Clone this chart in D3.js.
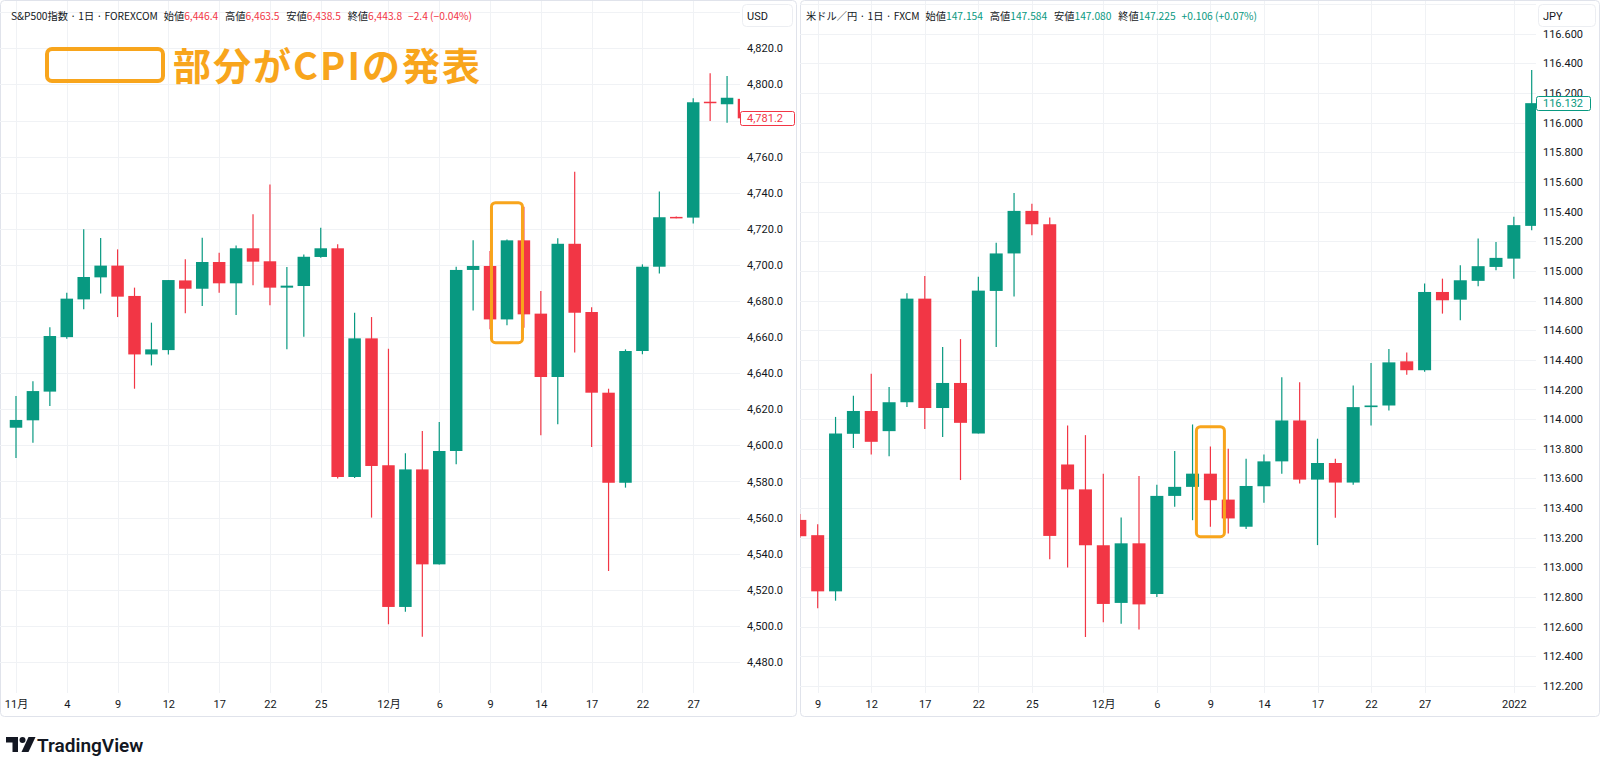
<!DOCTYPE html>
<html><head><meta charset="utf-8">
<script src="https://cdn.jsdelivr.net/npm/d3@7"></script>
<style>
body{margin:0;background:#fff;}
svg{display:block;}
text{font-family:Roboto,"Noto Sans CJK JP",sans-serif;}
</style></head>
<body><div id="chart"></div>
<script>
// ---------------- DATA ----------------
// S&P500 (FOREXCOM), daily
const spxDates = ["11-01","11-02","11-03","11-04","11-05","11-08","11-09","11-10","11-11","11-12","11-15","11-16","11-17","11-18","11-19","11-22","11-23","11-24","11-25","11-26","11-29","11-30",
  "12-01","12-02","12-03","12-06","12-07","12-08","12-09","12-10","12-13","12-14","12-15","12-16","12-17","12-20","12-21","12-22","12-23","12-24","12-27","12-28","12-29","12-30"];
const spxOpen  = [4609.8,4613.9,4629.8,4660.0,4680.9,4693.1,4699.6,4682.8,4650.4,4652.8,4691.4,4686.8,4701.6,4689.8,4709.2,4702.0,4687.4,4688.3,4704.4,4709.2,4582.5,4659.3,
  4589.0,4510.5,4586.7,4534.1,4596.9,4697.2,4699.4,4669.8,4713.6,4673.0,4637.9,4711.7,4673.9,4629.2,4579.3,4652.3,4699.0,4726.6,4726.2,4790.4,4789.0,4792.0];
const spxHigh  = [4627.4,4635.5,4665.4,4684.6,4719.7,4714.9,4708.6,4687.4,4668.0,4691.6,4703.1,4715.1,4706.8,4710.8,4728.0,4744.6,4698.8,4705.8,4720.6,4711.4,4673.5,4671.1,
  4653.6,4595.6,4608.0,4612.9,4699.0,4713.6,4707.7,4714.1,4732.2,4685.5,4714.7,4751.6,4676.6,4631.4,4653.2,4700.3,4740.6,4726.8,4792.3,4806.2,4804.7,4792.5];
const spxLow   = [4593.0,4601.5,4621.8,4659.1,4675.4,4684.2,4671.1,4631.4,4644.3,4650.4,4673.2,4677.2,4684.6,4672.2,4688.7,4677.6,4653.2,4660.2,4704.0,4581.6,4582.0,4560.0,
  4500.9,4507.9,4494.0,4534.0,4589.5,4674.8,4664.3,4666.5,4665.2,4605.6,4611.7,4651.4,4599.1,4530.4,4576.6,4650.5,4695.3,4725.8,4723.0,4779.7,4778.8,4780.5];
const spxClose = [4614.1,4630.1,4660.6,4681.3,4693.3,4699.6,4682.4,4650.4,4653.2,4691.6,4686.8,4701.6,4689.8,4709.2,4701.8,4687.4,4688.5,4704.5,4709.2,4582.5,4659.3,4588.6,
  4510.5,4586.7,4534.1,4596.9,4697.2,4699.4,4669.8,4713.6,4672.6,4637.9,4711.7,4673.5,4629.2,4579.3,4652.3,4699.0,4726.4,4726.0,4790.1,4789.6,4792.6,4781.2];
const spxTickDates  = ["11-01","11-04","11-09","11-12","11-17","11-22","11-25","12-01","12-06","12-09","12-14","12-17","12-22","12-27"];
const spxTickLabels = ["11月","4","9","12","17","22","25","12月","6","9","14","17","22","27"];
const spxPriceMin = 4480, spxPriceMax = 4820, spxPriceStep = 20;
const spxTitle = "S&P500指数 · 1日 · FOREXCOM";
const spxFields = ["始値","高値","安値","終値"];
const spxFieldValues = ["6,446.4","6,463.5","6,438.5","6,443.8"];
const spxChange = "−2.4 (−0.04%)";
const spxCurrency = "USD";
const spxCpiDate = "12-10", spxCpiRange = [4656.9, 4734.5];

// USD/JPY (FXCM), daily
const usdDates = ["11-08","11-09","11-10","11-11","11-12","11-15","11-16","11-17","11-18","11-19","11-22","11-23","11-24","11-25","11-26","11-29","11-30",
  "12-01","12-02","12-03","12-06","12-07","12-08","12-09","12-10","12-13","12-14","12-15","12-16","12-17","12-20","12-21","12-22","12-23","12-24","12-27","12-28","12-29","12-30","12-31",
  "01-03","01-04"];
const usdOpen  = [113.32,113.217,112.838,113.901,114.055,113.919,114.114,114.813,114.075,114.244,113.903,114.865,115.118,115.405,115.315,113.694,113.526,
  113.149,112.76,113.162,112.82,113.482,113.543,113.632,113.457,113.274,113.547,113.715,113.991,113.592,113.704,113.572,114.081,114.092,114.39,114.33,114.858,114.806,114.933,115.027,
  115.083,115.304];
const usdHigh  = [113.36,113.291,114.015,114.158,114.306,114.217,114.849,114.966,114.486,114.540,114.961,115.190,115.526,115.454,115.360,113.957,113.892,
  113.632,113.336,113.617,113.558,113.785,113.964,113.816,113.800,113.733,113.762,114.282,114.249,113.868,113.733,114.227,114.379,114.473,114.45,114.915,114.948,115.038,115.219,115.196,
  115.365,116.356];
const usdLow   = [113.20,112.724,112.775,113.806,113.762,113.750,114.082,113.934,113.880,113.589,113.903,114.486,114.827,115.241,113.055,112.999,112.53,
  112.63,112.62,112.58,112.80,113.408,113.318,113.274,113.229,113.258,113.435,113.632,113.565,113.150,113.334,113.558,113.957,114.058,114.30,114.32,114.712,114.667,114.897,115.005,
  114.948,115.275];
const usdClose = [113.21,112.838,113.903,114.055,113.847,114.114,114.813,114.075,114.244,113.975,114.867,115.118,115.405,115.315,113.212,113.526,113.149,
  112.753,113.162,112.75,113.482,113.543,113.632,113.453,113.330,113.549,113.715,113.991,113.592,113.704,113.572,114.081,114.092,114.383,114.33,114.858,114.802,114.937,115.032,115.088,
  115.309,116.132];
const usdTickDates  = ["11-09","11-12","11-17","11-22","11-25","12-01","12-06","12-09","12-14","12-17","12-22","12-27","01-03"];
const usdTickLabels = ["9","12","17","22","25","12月","6","9","14","17","22","27","2022"];
const usdPriceMin = 112.2, usdPriceMax = 116.6, usdPriceStep = 0.2;
const usdTitle = "米ドル／円 · 1日 · FXCM";
const usdFields = ["始値","高値","安値","終値"];
const usdFieldValues = ["147.154","147.584","147.080","147.225"];
const usdChange = "+0.106 (+0.07%)";
const usdCurrency = "JPY";
const usdCpiDate = "12-09", usdCpiRange = [113.207, 113.949];

const legendText = "部分がCPIの発表";

// ---------------- STYLE ----------------
const UP = "#089981", DOWN = "#f23645", ORANGE = "#f8a51c";
const TEXT = "#131722", GRID = "#f0f2f5", BORDER = "#e0e3eb";

const svg = d3.select("#chart").append("svg").attr("width",1600).attr("height",770);
svg.append("rect").attr("width",1600).attr("height",770).attr("fill","#fff");

function drawPanel(cfg){
  const g = svg.append("g");
  const x = d3.scalePoint().domain(cfg.dates).range(cfg.xRange);
  const y = d3.scaleLinear().domain([cfg.pMin, cfg.pMax]).range(cfg.yRange);
  const n = Math.round((cfg.pMax - cfg.pMin)/cfg.pStep);
  const gridVals = d3.range(0, n+2).map(i => +(cfg.pMin + i*cfg.pStep).toFixed(6))
        .filter(v=>y(v) > 0);
  const labelVals = gridVals.filter(v=>v <= cfg.pMax + 1e-9);

  // border
  g.append("rect").attr("x",cfg.border[0]+0.5).attr("y",0.5)
    .attr("width",cfg.border[1]-cfg.border[0]-1).attr("height",cfg.bottom-1)
    .attr("rx",4).attr("fill","none").attr("stroke",BORDER);

  // grid
  const grid = g.append("g");
  grid.selectAll("line.h").data(gridVals).join("line").attr("class","h")
    .attr("x1",cfg.plot[0]).attr("x2",cfg.plot[1])
    .attr("y1",d=>Math.round(y(d))+0.5).attr("y2",d=>Math.round(y(d))+0.5)
    .attr("stroke",GRID);
  grid.selectAll("line.v").data(cfg.tickDates).join("line").attr("class","v")
    .attr("x1",d=>Math.round(x(d))+0.5).attr("x2",d=>Math.round(x(d))+0.5)
    .attr("y1",1).attr("y2",cfg.plotBottom)
    .attr("stroke",GRID);

  // candles (clipped to plot area)
  const clipId = "clip-"+cfg.id;
  g.append("clipPath").attr("id",clipId).append("rect")
    .attr("x",cfg.plot[0]).attr("y",0).attr("width",cfg.plot[1]-cfg.plot[0]).attr("height",cfg.plotBottom);
  const cg = g.append("g").attr("clip-path",`url(#${clipId})`);
  const idx = d3.range(cfg.dates.length);
  const col = i => cfg.C[i] >= cfg.O[i] ? UP : DOWN;
  cg.selectAll("line.wick").data(idx).join("line").attr("class","wick")
    .attr("x1",i=>x(cfg.dates[i])).attr("x2",i=>x(cfg.dates[i]))
    .attr("y1",i=>y(cfg.H[i])).attr("y2",i=>y(cfg.L[i]))
    .attr("stroke",col).attr("stroke-width",1.2);
  cg.selectAll("rect.body").data(idx).join("rect").attr("class","body")
    .attr("x",i=>x(cfg.dates[i]) - cfg.bw/2).attr("width",cfg.bw)
    .attr("y",i=>y(Math.max(cfg.O[i],cfg.C[i])))
    .attr("height",i=>Math.max(1.5, Math.abs(y(cfg.O[i])-y(cfg.C[i]))))
    .attr("fill",col);

  // CPI highlight
  const cx = x(cfg.cpiDate);
  g.append("rect").attr("x",cx - cfg.cpiW/2).attr("width",cfg.cpiW)
    .attr("y",y(cfg.cpiRange[1])).attr("height",y(cfg.cpiRange[0])-y(cfg.cpiRange[1]))
    .attr("rx",4).attr("fill","none").attr("stroke",ORANGE).attr("stroke-width",3);

  // time axis
  const xa = d3.axisBottom(x).tickValues(cfg.tickDates)
    .tickFormat((d,i)=>cfg.tickLabels[i]).tickSize(0).tickPadding(7);
  const xg = g.append("g").attr("transform",`translate(0,${cfg.plotBottom})`).call(xa);
  xg.select(".domain").remove();
  xg.selectAll("text").attr("fill",TEXT).style("font-size","11px")
    .style("font-family",'Roboto,"Noto Sans CJK JP",sans-serif');

  // price axis
  const lastY = y(cfg.C[cfg.C.length-1]);
  const ya = d3.axisRight(y).tickValues(labelVals.filter(v=>Math.abs(y(v)-lastY) > 9.5))
    .tickFormat(cfg.fmt).tickSize(0).tickPadding(7);
  const yg = g.append("g").attr("transform",`translate(${cfg.plot[1]},0)`).call(ya);
  yg.select(".domain").remove();
  yg.selectAll("text").attr("fill",TEXT).style("font-size","11px")
    .style("font-family",'Roboto,"Noto Sans CJK JP",sans-serif');

  // last price label
  const lastCol = col(cfg.C.length-1);
  g.append("rect").attr("x",cfg.plot[1]+0.5).attr("y",Math.round(lastY)-6.5)
    .attr("width",54).attr("height",14).attr("rx",2)
    .attr("fill","#fff").attr("stroke",lastCol);
  g.append("text").attr("x",cfg.plot[1]+7).attr("y",Math.round(lastY)+0.5)
    .attr("dominant-baseline","central").attr("fill",lastCol).style("font-size","11px")
    .text(cfg.fmt(cfg.C[cfg.C.length-1]));

  // currency box
  g.append("rect").attr("x",cfg.plot[1]+2.5).attr("y",4.5).attr("width",cfg.border[1]-cfg.plot[1]-7).attr("height",22)
    .attr("rx",4).attr("fill","#fff").attr("stroke","#eceef2");
  g.append("text").attr("x",cfg.plot[1]+7).attr("y",16).attr("dominant-baseline","central")
    .attr("fill",TEXT).style("font-size","11px").text(cfg.currency);

  // header
  const t = g.append("text").attr("x",cfg.headerX).attr("y",15).attr("dominant-baseline","central")
    .attr("fill",TEXT).style("font-size","10.5px").style("font-family",'"Noto Sans CJK JP",sans-serif')
    .attr("textLength",cfg.headerW).attr("lengthAdjust","spacingAndGlyphs");
  t.append("tspan").text(cfg.title);
  cfg.fields.forEach((f,i)=>{
    t.append("tspan").attr("dx",i===0?6:7).text(f);
    t.append("tspan").attr("fill",cfg.valColor).text(cfg.fieldValues[i]);
  });
  t.append("tspan").attr("dx",6).attr("fill",cfg.valColor).text(cfg.change);
}

drawPanel({
  id:"spx", dates:spxDates, O:spxOpen, H:spxHigh, L:spxLow, C:spxClose,
  xRange:[16,744], yRange:[662,48.3], pMin:spxPriceMin, pMax:spxPriceMax, pStep:spxPriceStep,
  plot:[0,740], border:[0,797], bottom:717, plotBottom:693, bw:12.5,
  tickDates:spxTickDates, tickLabels:spxTickLabels, fmt:d3.format(",.1f"),
  cpiDate:spxCpiDate, cpiRange:spxCpiRange, cpiW:31,
  currency:spxCurrency, headerX:11, headerW:461, title:spxTitle, fields:spxFields, fieldValues:spxFieldValues,
  change:spxChange, valColor:DOWN
});
drawPanel({
  id:"usd", dates:usdDates, O:usdOpen, H:usdHigh, L:usdLow, C:usdClose,
  xRange:[799.85,1531.7], yRange:[685.9,33.8], pMin:usdPriceMin, pMax:usdPriceMax, pStep:usdPriceStep,
  plot:[800,1536], border:[800,1600], bottom:717, plotBottom:693, bw:13,
  tickDates:usdTickDates, tickLabels:usdTickLabels, fmt:d3.format(".3f"),
  cpiDate:usdCpiDate, cpiRange:usdCpiRange, cpiW:28,
  currency:usdCurrency, headerX:806, headerW:451, title:usdTitle, fields:usdFields, fieldValues:usdFieldValues,
  change:usdChange, valColor:UP
});

// legend annotation
svg.append("rect").attr("x",47).attr("y",49).attr("width",116).attr("height",32).attr("rx",5)
  .attr("fill","none").attr("stroke",ORANGE).attr("stroke-width",4);
svg.append("text").attr("x",173).attr("y",80).attr("fill",ORANGE)
  .style("font-family",'"Noto Sans CJK JP",sans-serif').style("font-weight","700").style("font-size","38px")
  .attr("textLength",307).attr("lengthAdjust","spacing").text(legendText);

// TradingView logo
const logo = svg.append("g").attr("transform","translate(6,737)");
logo.append("path").attr("d","M0,0 H12 V15 H6.5 V5.5 H0 Z").attr("fill",TEXT);
logo.append("circle").attr("cx",16.5).attr("cy",3).attr("r",3).attr("fill",TEXT);
logo.append("path").attr("d","M22.5,0 H29.5 L22.5,15 H15.5 Z").attr("fill",TEXT);
svg.append("text").attr("x",37).attr("y",752).attr("fill",TEXT)
  .style("font-size","19px").style("font-weight","600").style("font-family","Roboto,sans-serif")
  .text("TradingView");
</script>
</body></html>
